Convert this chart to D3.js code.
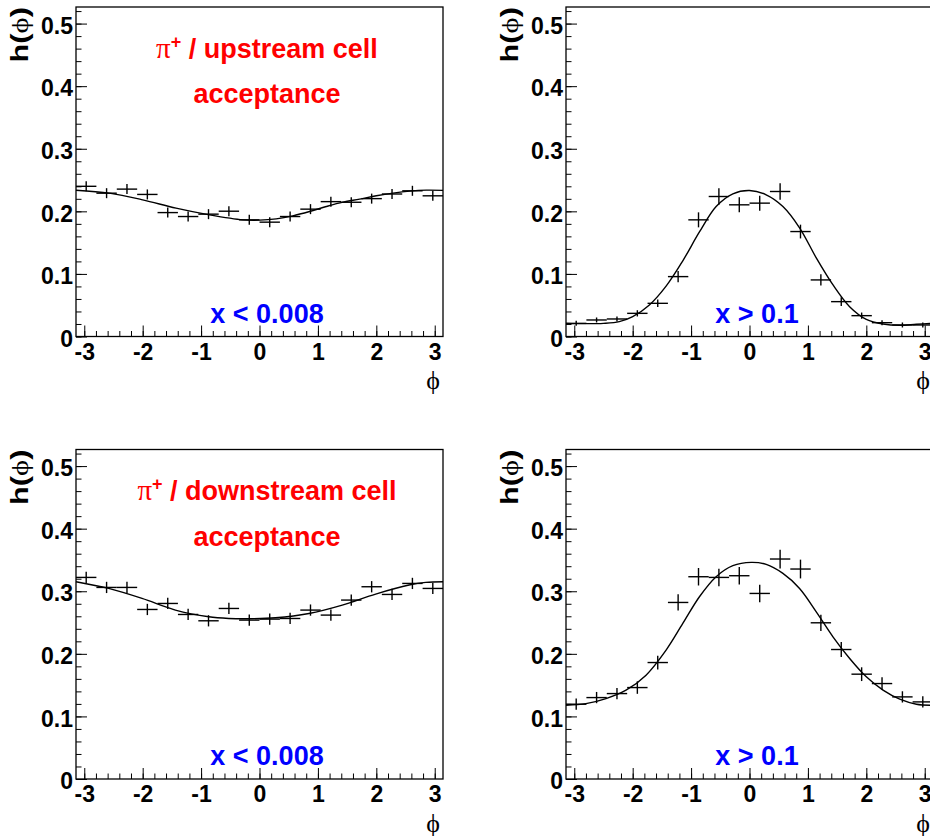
<!DOCTYPE html>
<html><head><meta charset="utf-8">
<script src="https://cdn.jsdelivr.net/npm/d3@7"></script>
<style>
body{margin:0;background:#fff}
svg{display:block;background:#fff}
</style>
</head><body>
<svg id="chart" width="930" height="836"></svg>
<script>
// ---------- DATA ----------
const binCenters = [-2.967, -2.618, -2.269, -1.920, -1.571, -1.222, -0.873, -0.524, -0.175,
                     0.175, 0.524, 0.873, 1.222, 1.571, 1.920, 2.269, 2.618, 2.967];
const binHalfWidth = 0.1745;

// upstream cell, x < 0.008
const upLowVal = [0.240, 0.229, 0.2355, 0.227, 0.198, 0.1917, 0.1955, 0.2002, 0.1864,
                  0.1827, 0.1917, 0.2035, 0.2155, 0.2145, 0.2203, 0.2277, 0.2328, 0.2248];
const upLowErr = [0.008, 0.008, 0.008, 0.008, 0.008, 0.008, 0.008, 0.008, 0.008,
                  0.008, 0.008, 0.008, 0.008, 0.008, 0.008, 0.008, 0.008, 0.008];
const upLowFitPhi = [-3.1416, -2.571, -2.0, -1.429, -0.857, -0.286, 0, 0.286, 0.571, 0.857,
                     1.143, 1.429, 1.714, 2.0, 2.286, 2.571, 2.857, 3.1416];
const upLowFitVal = [0.2338, 0.2291, 0.2184, 0.2051, 0.1944, 0.1864, 0.1859, 0.188, 0.1928, 0.1997,
                     0.2077, 0.2147, 0.2195, 0.2248, 0.2291, 0.2323, 0.2339, 0.2335];

// upstream cell, x > 0.1
const upHighVal = [0.021, 0.0264, 0.028, 0.037, 0.053, 0.0957, 0.1864, 0.2237, 0.2104,
                   0.2131, 0.2317, 0.1677, 0.0904, 0.0557, 0.0333, 0.0221, 0.0184, 0.0184];
const upHighErr = [0.004, 0.004, 0.004, 0.005, 0.006, 0.009, 0.012, 0.013, 0.012,
                   0.012, 0.013, 0.011, 0.009, 0.007, 0.005, 0.004, 0.004, 0.004];
const upHighFitPhi = [-3.1416, -2.8, -2.5, -2.229, -2.0, -1.714, -1.428, -1.142, -0.857, -0.571,
                      -0.285, 0.0, 0.286, 0.572, 0.857, 1.143, 1.43, 1.714, 2.0, 2.287, 2.57, 2.858, 3.1416];
const upHighFitVal = [0.021, 0.0205, 0.021, 0.0237, 0.0317, 0.0504, 0.0805, 0.121, 0.167, 0.2077,
                      0.228, 0.2333, 0.2264, 0.2077, 0.1737, 0.1257, 0.0824, 0.0477, 0.0275, 0.02, 0.0179, 0.0195, 0.021];

// downstream cell, x < 0.008
const downLowVal = [0.3221, 0.3061, 0.3061, 0.2709, 0.2805, 0.2629, 0.2528, 0.2725, 0.2539,
                    0.2555, 0.2565, 0.2699, 0.2619, 0.2859, 0.3072, 0.2949, 0.3125, 0.3045];
const downLowErr = [0.009, 0.009, 0.009, 0.009, 0.009, 0.009, 0.009, 0.009, 0.009,
                    0.009, 0.009, 0.009, 0.009, 0.009, 0.009, 0.009, 0.009, 0.009];
const downLowFitPhi = [-3.1416, -2.583, -2.011, -1.44, -0.869, -0.526, -0.183, 0.274, 0.846,
                       1.417, 1.989, 2.56, 2.846, 3.1416];
const downLowFitVal = [0.3152, 0.3045, 0.2885, 0.2699, 0.2592, 0.2565, 0.256, 0.2576, 0.2645,
                       0.2779, 0.2955, 0.3099, 0.3141, 0.3152];

// downstream cell, x > 0.1
const downHighVal = [0.1195, 0.1301, 0.1365, 0.1461, 0.1861, 0.2821, 0.3232, 0.3221, 0.3248,
                     0.2965, 0.3515, 0.3355, 0.2496, 0.2069, 0.1675, 0.1525, 0.1312, 0.1232];
const downHighErr = [0.009, 0.009, 0.009, 0.010, 0.011, 0.013, 0.014, 0.014, 0.014,
                     0.014, 0.015, 0.015, 0.013, 0.012, 0.011, 0.010, 0.009, 0.009];
const downHighFitPhi = [-3.1416, -2.8, -2.457, -2.114, -1.771, -1.428, -1.142, -0.857, -0.571, -0.285,
                        0.029, 0.286, 0.572, 0.857, 1.143, 1.429, 1.715, 2.0, 2.286, 2.572, 2.858, 3.1416];
const downHighFitVal = [0.1179, 0.1205, 0.1285, 0.1419, 0.1659, 0.2059, 0.2485, 0.2912, 0.3232, 0.3408,
                        0.3461, 0.3429, 0.3285, 0.3045, 0.2672, 0.2272, 0.1925, 0.1632, 0.1419, 0.1275, 0.1195, 0.1179];

const xTicks = [-3, -2, -1, 0, 1, 2, 3];
const xTickLabels = ["-3", "-2", "-1", "0", "1", "2", "3"];
const yTicks = [0, 0.1, 0.2, 0.3, 0.4, 0.5];
const yTickLabels = ["0", "0.1", "0.2", "0.3", "0.4", "0.5"];
const xMinorTicks = d3.range(-3, 3.001, 0.2);
const yMinorTicks = d3.range(0, 0.5265, 0.02);

const cellNames = ["upstream cell", "downstream cell"];
const cutLabels = ["x < 0.008", "x > 0.1"];

// ---------- LAYOUT ----------
const W = 367, H = 329.5;
const panels = [
  {left: 76,  top: 7,     val: upLowVal,    err: upLowErr,    fitPhi: upLowFitPhi,    fitVal: upLowFitVal,    cell: cellNames[0], cut: cutLabels[0]},
  {left: 566, top: 7,     val: upHighVal,   err: upHighErr,   fitPhi: upHighFitPhi,   fitVal: upHighFitVal,   cell: null,         cut: cutLabels[1]},
  {left: 76,  top: 449.5, val: downLowVal,  err: downLowErr,  fitPhi: downLowFitPhi,  fitVal: downLowFitVal,  cell: cellNames[1], cut: cutLabels[0]},
  {left: 566, top: 449.5, val: downHighVal, err: downHighErr, fitPhi: downHighFitPhi, fitVal: downHighFitVal, cell: null,         cut: cutLabels[1]}
];

const SANS = "'Liberation Sans', Arial, Helvetica, sans-serif";
const SERIF = "'Liberation Serif', 'DejaVu Serif', 'Times New Roman', serif";

const svg = d3.select("#chart");

panels.forEach(p => {
  const x = d3.scaleLinear().domain([-Math.PI, Math.PI]).range([p.left, p.left + W]);
  const y = d3.scaleLinear().domain([0, 0.5265]).range([p.top + H, p.top]);
  const g = svg.append("g");

  // frame
  g.append("rect").attr("x", p.left).attr("y", p.top).attr("width", W).attr("height", H)
    .attr("fill", "none").attr("stroke", "#000").attr("stroke-width", 1.3);

  // y axis minor
  const yMinor = g.append("g").attr("transform", `translate(${p.left},0)`)
    .call(d3.axisLeft(y).tickValues(yMinorTicks).tickSize(-5.5).tickFormat(""));
  yMinor.select(".domain").remove();
  // y axis major
  const yMajor = g.append("g").attr("transform", `translate(${p.left},0)`)
    .call(d3.axisLeft(y).tickValues(yTicks).tickSize(-11).tickPadding(3)
      .tickFormat((d, i) => yTickLabels[i]));
  yMajor.select(".domain").remove();
  yMajor.selectAll("text").attr("dy", "0.42em")
    .style("font-family", SANS).style("font-weight", "bold").style("font-size", "23px").attr("fill", "#000");

  // x axis minor
  const xMinor = g.append("g").attr("transform", `translate(0,${p.top + H})`)
    .call(d3.axisBottom(x).tickValues(xMinorTicks).tickSize(-5.5).tickFormat(""));
  xMinor.select(".domain").remove();
  const xMajor = g.append("g").attr("transform", `translate(0,${p.top + H})`)
    .call(d3.axisBottom(x).tickValues(xTicks).tickSize(-11)
      .tickFormat((d, i) => xTickLabels[i]));
  xMajor.select(".domain").remove();
  xMajor.selectAll("text").attr("y", 23).attr("dy", 0)
    .style("font-family", SANS).style("font-weight", "bold").style("font-size", "23px").attr("fill", "#000");

  g.selectAll(".tick line").attr("stroke", "#000").attr("stroke-width", 1);

  // y title h(ϕ)
  const yt = g.append("text")
    .attr("transform", `translate(${p.left - 48},${p.top}) rotate(-90) scale(1.28,1)`)
    .attr("text-anchor", "end")
    .style("font-family", SANS).style("font-weight", "bold").style("font-size", "24px");
  yt.append("tspan").text("h(");
  yt.append("tspan").style("font-family", SERIF).style("font-weight", "normal").text("ϕ");
  yt.append("tspan").text(")");

  // x title ϕ
  g.append("text")
    .attr("x", p.left + W - 3).attr("y", p.top + H + 52.5)
    .attr("text-anchor", "end")
    .style("font-family", SERIF).style("font-size", "26px")
    .text("ϕ");

  // fit curve
  const fitPts = p.fitPhi.map((ph, i) => [ph, p.fitVal[i]]);
  g.append("path").datum(fitPts)
    .attr("d", d3.line().x(d => x(d[0])).y(d => y(d[1])).curve(d3.curveCatmullRom.alpha(0.5)))
    .attr("fill", "none").attr("stroke", "#000").attr("stroke-width", 1.4);

  // data crosses
  const pts = binCenters.map((c, i) => ({c, v: p.val[i], e: p.err[i]}));
  const cross = g.append("g").attr("stroke", "#000").attr("stroke-width", 1.4);
  cross.selectAll("line.h").data(pts).join("line").attr("class", "h")
    .attr("x1", d => x(d.c - binHalfWidth)).attr("x2", d => x(d.c + binHalfWidth))
    .attr("y1", d => y(d.v)).attr("y2", d => y(d.v));
  cross.selectAll("line.v").data(pts).join("line").attr("class", "v")
    .attr("x1", d => x(d.c)).attr("x2", d => x(d.c))
    .attr("y1", d => y(d.v - d.e)).attr("y2", d => y(d.v + d.e));

  // annotations
  const cx = p.left + 191;
  if (p.cell) {
    const t1 = g.append("text").attr("x", cx).attr("y", p.top + 50.5).attr("text-anchor", "middle")
      .attr("fill", "#ff0000")
      .style("font-family", SANS).style("font-weight", "bold").style("font-size", "27px");
    t1.append("tspan").style("font-family", SERIF).style("font-weight", "normal").style("font-size", "29px").text("π");
    t1.append("tspan").attr("dy", -10).style("font-size", "18px").text("+");
    t1.append("tspan").attr("dy", 10).text(" / " + p.cell);
    g.append("text").attr("x", cx).attr("y", p.top + 96).attr("text-anchor", "middle")
      .attr("fill", "#ff0000")
      .style("font-family", SANS).style("font-weight", "bold").style("font-size", "27px")
      .text("acceptance");
  }
  g.append("text").attr("x", cx).attr("y", p.top + H - 14).attr("text-anchor", "middle")
    .attr("fill", "#0000ff")
    .style("font-family", SANS).style("font-weight", "bold").style("font-size", "27px")
    .text(p.cut);
});
</script>
</body></html>
